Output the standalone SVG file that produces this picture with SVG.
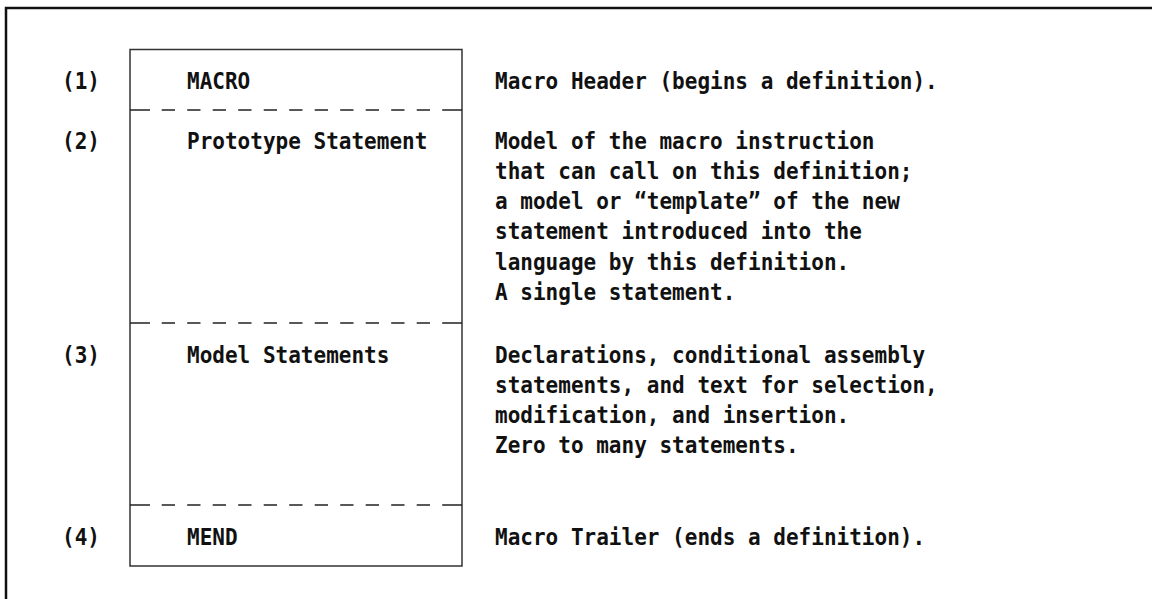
<svg xmlns="http://www.w3.org/2000/svg" width="1152" height="599" viewBox="0 0 1152 599">
<style>
text{font-family:"DejaVu Sans Mono","Liberation Mono",monospace;font-weight:bold;font-size:23px;fill:#111}
.frame{fill:none;stroke:#111;stroke-width:2.5}
.box{fill:none;stroke:#333;stroke-width:1.5}
.dash{fill:none;stroke:#222;stroke-width:1.5}
</style>
<defs>
<path id="dashline" d="M130 0H150M161.7 0h13.3M187.2 0h13.3M212.7 0h13.3M238.2 0h13.3M263.7 0h13.3M289.2 0h13.3M314.7 0h13.3M340.2 0h13.3M365.7 0h13.3M391.2 0h13.3M416.7 0h13.3M442.2 0H462"/>
</defs>
<rect width="1152" height="599" fill="#fff"/>
<path class="frame" d="M6 610 V8 H1160"/>
<g id="structure">
<rect class="box" x="130" y="49.5" width="332" height="516.5"/>
</g>
<g id="connectors">
<use href="#dashline" class="dash" y="110"/>
<use href="#dashline" class="dash" y="323"/>
<use href="#dashline" class="dash" y="505"/>
</g>
<g id="n1">
<text x="62" y="88.5" textLength="37.95" lengthAdjust="spacingAndGlyphs">(1)</text>
<text x="187" y="88.5" textLength="63.25" lengthAdjust="spacingAndGlyphs">MACRO</text>
<text x="495" y="88.5" textLength="442.75" lengthAdjust="spacingAndGlyphs">Macro Header (begins a definition).</text>
</g>
<g id="n2">
<text x="62" y="148.5" textLength="37.95" lengthAdjust="spacingAndGlyphs">(2)</text>
<text x="187" y="148.5" textLength="240.35" lengthAdjust="spacingAndGlyphs">Prototype Statement</text>
<text x="495" y="148.5" textLength="379.5" lengthAdjust="spacingAndGlyphs">Model of the macro instruction</text>
<text x="495" y="178.8" textLength="417.45" lengthAdjust="spacingAndGlyphs">that can call on this definition;</text>
<text x="495" y="209.1" textLength="404.8" lengthAdjust="spacingAndGlyphs">a model or “template” of the new</text>
<text x="495" y="239.4" textLength="366.85" lengthAdjust="spacingAndGlyphs">statement introduced into the</text>
<text x="495" y="269.7" textLength="354.2" lengthAdjust="spacingAndGlyphs">language by this definition.</text>
<text x="495" y="300.2" textLength="240.35" lengthAdjust="spacingAndGlyphs">A single statement.</text>
</g>
<g id="n3">
<text x="62" y="362.5" textLength="37.95" lengthAdjust="spacingAndGlyphs">(3)</text>
<text x="187" y="362.5" textLength="202.4" lengthAdjust="spacingAndGlyphs">Model Statements</text>
<text x="495" y="362.5" textLength="430.1" lengthAdjust="spacingAndGlyphs">Declarations, conditional assembly</text>
<text x="495" y="392.8" textLength="442.75" lengthAdjust="spacingAndGlyphs">statements, and text for selection,</text>
<text x="495" y="423" textLength="354.2" lengthAdjust="spacingAndGlyphs">modification, and insertion.</text>
<text x="495" y="453.3" textLength="303.6" lengthAdjust="spacingAndGlyphs">Zero to many statements.</text>
</g>
<g id="n4">
<text x="62" y="544.5" textLength="37.95" lengthAdjust="spacingAndGlyphs">(4)</text>
<text x="187" y="544.5" textLength="50.6" lengthAdjust="spacingAndGlyphs">MEND</text>
<text x="495" y="544.5" textLength="430.1" lengthAdjust="spacingAndGlyphs">Macro Trailer (ends a definition).</text>
</g>
</svg>
